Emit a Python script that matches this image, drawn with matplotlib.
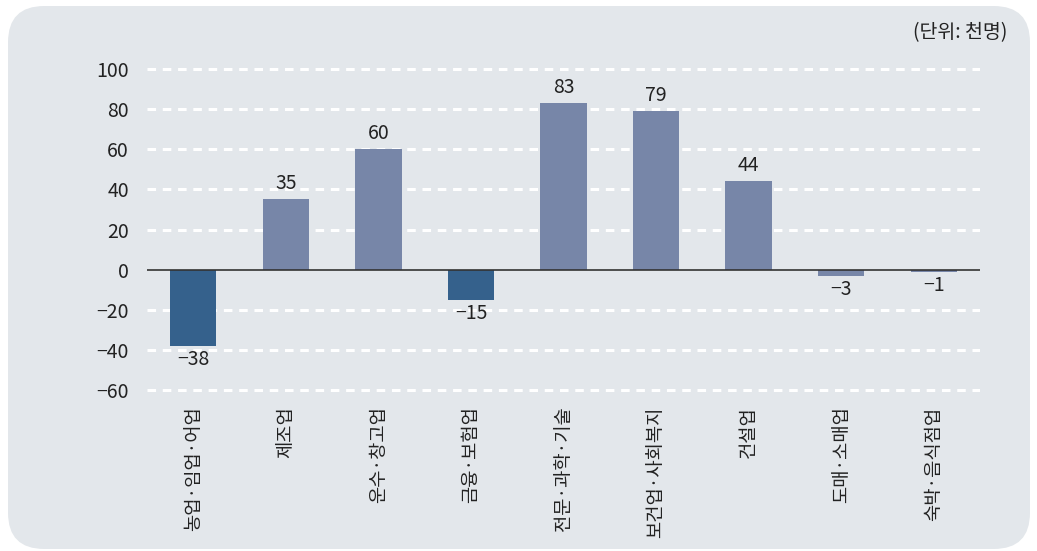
import matplotlib
matplotlib.use('Agg')
import matplotlib.pyplot as plt
from matplotlib.patches import FancyBboxPatch

plt.rcParams['font.family'] = ['Noto Sans CJK KR', 'DejaVu Sans']

# Data
categories = ['농업·임업·어업', '제조업', '운수·창고업', '금융·보험업', '전문·과학·기술',
              '보건업·사회복지', '건설업', '도매·소매업', '숙박·음식점업']
values = [-38, 35, 60, -15, 83, 79, 44, -3, -1]
highlight = [True, False, False, True, False, False, False, False, False]
yticks = [100, 80, 60, 40, 20, 0, -20, -40, -60]

bgColor = '#e3e7eb'
darkBlue = '#35618c'
slate = '#7786a8'

fig = plt.figure(figsize=(10.37, 5.51), dpi=100)

# Rounded background panel
W, H = 1037, 551
panel = FancyBboxPatch((8 / W, 2 / H), 1022 / W, 543 / H,
                       boxstyle='round,pad=0,rounding_size=0.035',
                       transform=fig.transFigure, facecolor=bgColor,
                       edgecolor='none', mutation_aspect=W / H, zorder=-1)
fig.patches.append(panel)

ax = fig.add_axes([147 / W, 1 - 394 / H, (980 - 147) / W, (394 - 65) / H])
ax.set_facecolor('none')

x = list(range(len(categories)))
colors = [darkBlue if h else slate for h in highlight]
ax.bar(x, values, width=0.5, color=colors, zorder=3)

# Value labels
for xi, v in zip(x, values):
    if v >= 0:
        ax.text(xi, v + 2.5, str(v), ha='center', va='bottom', fontsize=14, color='#222222')
    else:
        ax.text(xi, v - 1.5, '\u2212' + str(abs(v)), ha='center', va='top', fontsize=14, color='#222222')

ax.set_xlim(-0.5, len(categories) - 0.5)
ax.set_ylim(-62, 102)
ax.set_yticks(yticks)
ax.set_yticklabels([('\u2212' + str(abs(t))) if t < 0 else str(t) for t in yticks], fontsize=14, color='#222222')

for t in yticks:
    if t != 0:
        ax.axhline(t, color='white', linestyle=(0, (2.8, 2.2)), linewidth=2.2, zorder=1)
ax.axhline(0, color='#333333', linewidth=1.2, zorder=4)

ax.set_xticks(x)
ax.set_xticklabels(categories, rotation=90, fontsize=13.5, color='#222222', va='top')
ax.tick_params(axis='both', length=0)
ax.tick_params(axis='y', pad=13)
ax.tick_params(axis='x', pad=9)
for s in ax.spines.values():
    s.set_visible(False)

fig.text(1007 / W, 1 - 33 / H, '(단위: 천명)', ha='right', va='center', fontsize=14, color='#222222')

fig.savefig('out.png', dpi=100)
